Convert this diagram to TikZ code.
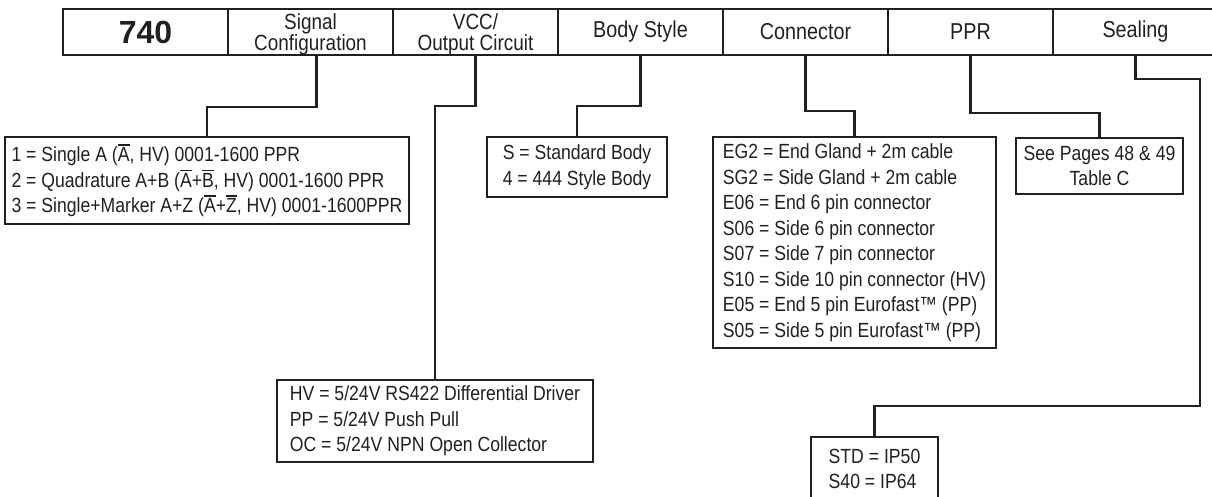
\documentclass[tikz,border=0pt]{standalone}
\usepackage{fontspec}
\setmainfont{Liberation Sans}[FakeStretch=0.86]
\newfontfamily\numfont{Liberation Sans}
\usetikzlibrary{positioning}
\definecolor{ink}{HTML}{231F20}
% bar over a signal name
\newcommand{\ovl}[1]{\vbox{\hrule height 1.6pt\kern 2pt\hbox{#1}}}
% pushes a two-line heading down a little
\newcommand{\topstrut}{\rule{0pt}{20pt}}
\tikzset{
  hdr/.style={draw=ink,line width=2.6pt,minimum width=165pt,minimum height=46pt,
    inner sep=0pt,outer sep=0pt,align=center,text=ink,
    font=\fontsize{23}{23}\selectfont},
  hdrtwo/.style={hdr,font=\fontsize{22}{21}\selectfont},
  optbox/.style={draw=ink,line width=2.8pt,inner sep=0pt,outer sep=0pt,
    anchor=north west,align=left,text=ink,font=\fontsize{20.5}{25.5}\selectfont},
  link/.style={draw=ink,line width=2.6pt}
}
\begin{document}
\begin{tikzpicture}[x=1pt,y=-1pt]
\useasboundingbox (0,0) rectangle (1212,497);
\clip (0,0) rectangle (1212,497);
% code bar
\node[hdr,anchor=north west,font={\numfont\bfseries\fontsize{32}{32}\selectfont}] (model) at (63,9) {740};
\node[hdrtwo,right=0pt of model] (sig) {\topstrut Signal\\Configuration};
\node[hdrtwo,right=0pt of sig] (vcc) {\topstrut VCC/\\Output Circuit};
\node[hdr,right=0pt of vcc] (body) {Body Style};
\node[hdr,right=0pt of body] (conn) {Connector};
\node[hdr,right=0pt of conn] (ppr) {PPR};
\node[hdr,right=0pt of ppr] (seal) {Sealing};
% option boxes
\node[optbox,minimum width=404pt,minimum height=87pt] (sigopt) at (5,137)
  {1 = Single A (\ovl{A}, HV) 0001-1600 PPR\\
   2 = Quadrature A+B (\ovl{A}+\ovl{B}, HV) 0001-1600 PPR\\
   3 = Single+Marker A+Z (\ovl{A}+\ovl{Z}, HV) 0001-1600PPR};
\node[optbox,minimum width=316pt,minimum height=82pt] (hvopt) at (277,380)
  {HV = 5/24V RS422 Differential Driver\\
   PP = 5/24V Push Pull\\
   OC = 5/24V NPN Open Collector};
\node[optbox,minimum width=180pt,minimum height=60pt] (bodyopt) at (487,137)
  {S = Standard Body\\4 = 444 Style Body};
\node[optbox,minimum width=283pt,minimum height=211pt] (connopt) at (713,137)
  {EG2 = End Gland + 2m cable\\
   SG2 = Side Gland + 2m cable\\
   E06 = End 6 pin connector\\
   S06 = Side 6 pin connector\\
   S07 = Side 7 pin connector\\
   S10 = Side 10 pin connector (HV)\\
   E05 = End 5 pin Eurofast™ (PP)\\
   S05 = Side 5 pin Eurofast™ (PP)};
\node[optbox,align=center,minimum width=167pt,minimum height=56pt] (ppropt) at (1016,138)
  {See Pages 48 \& 49\\Table C};
\node[optbox,minimum width=127pt,minimum height=64pt] (sealopt) at (811,437)
  {STD = IP50\\S40 = IP64};
% links
\draw[link] ([xshift=6pt]sig.south) -- ++(0,52) -| (sigopt.north);
\draw[link] (vcc.south) -- ++(0,51) -| (hvopt.north);
\draw[link] (body.south) -- ++(0,51) -| (bodyopt.north);
\draw[link] (conn.south) -- ++(0,56) -| (connopt.north);
\draw[link] (ppr.south) -- ++(0,58) -| (ppropt.north);
\coordinate (sealbend) at (1200,406);
\draw[link] (seal.south) -- ++(0,24) -| (sealbend) -| (sealopt.north);
\end{tikzpicture}
\end{document}
